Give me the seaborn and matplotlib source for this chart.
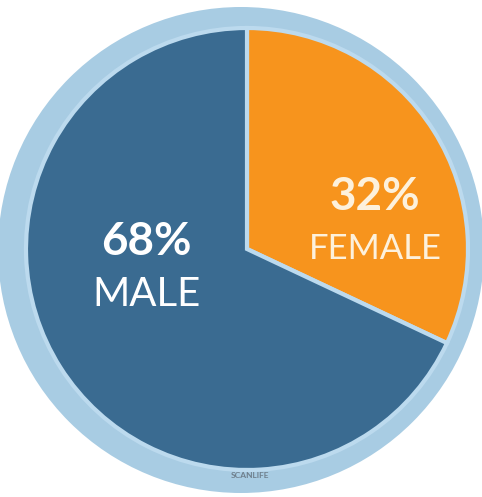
import matplotlib
matplotlib.use("Agg")
import matplotlib.pyplot as plt
import seaborn as sns
from matplotlib.patches import Circle

# Datos del gráfico
genders = ["FEMALE", "MALE"]
shares = [32, 68]
wedge_colors = ["#f7941d", "#3a6b91"]
label_colors = ["#fdf1dc", "#ffffff"]

sns.set_theme(style="white")
plt.rcParams["font.family"] = ["Lato", "DejaVu Sans"]

fig = plt.figure(figsize=(4.82, 4.97), dpi=100)
ax = fig.add_axes([0, 0, 1, 1])

# anillo exterior azul claro
ax.add_patch(Circle((241, 247), 243, facecolor="#a8cce3", edgecolor="none", zorder=0))

wedges, _ = ax.pie(
    shares,
    colors=wedge_colors,
    startangle=90,
    counterclock=False,
    center=(247, 248),
    radius=221,
    frame=True,
    wedgeprops={"edgecolor": "#bcdaee", "linewidth": 3},
)
ax.set_xlim(0, 482)
ax.set_ylim(0, 497)
ax.set_aspect("equal")
ax.axis("off")

# etiquetas
label_pos = {"FEMALE": (375, 300), "MALE": (146, 255)}
name_sizes = {"FEMALE": 25, "MALE": 29}
for g, v, c in zip(genders, shares, label_colors):
    x, y = label_pos[g]
    ax.text(x, y, f"{v}%", ha="center", va="center", color=c,
            fontsize=33, fontweight="bold")
    ax.text(x, y - 52, g, ha="center", va="center", color=c,
            fontsize=name_sizes[g], fontweight="normal")

ax.text(250, 22, "SCANLIFE", ha="center", va="center", color="#6f7f8c",
        fontsize=6, fontweight="bold")

fig.savefig("out.png", dpi=100, facecolor="white")
